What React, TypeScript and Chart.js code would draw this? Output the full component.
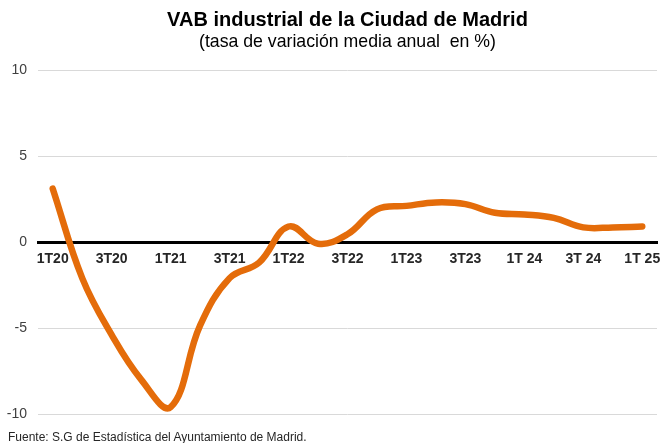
import React, { useEffect, useRef } from "react";
import { Chart, registerables } from "chart.js";

Chart.register(...registerables);

const quarters: string[] = [
  "1T20", "2T20", "3T20", "4T20",
  "1T21", "2T21", "3T21", "4T21",
  "1T22", "2T22", "3T22", "4T22",
  "1T23", "2T23", "3T23", "4T23",
  "1T 24", "2T 24", "3T 24", "4T 24",
  "1T 25",
];

const vabIndustrial: number[] = [
  3.1, -2.1, -5.4, -8.0,
  -9.6, -4.85, -2.1, -1.2,
  0.9, -0.1, 0.45, 1.9,
  2.1, 2.3, 2.2, 1.7,
  1.6, 1.4, 0.85, 0.85,
  0.9,
];

const yTicks: number[] = [-10, -5, 0, 5, 10];

const titleText = "VAB industrial de la Ciudad de Madrid";
const subtitleText = "(tasa de variación media anual  en %)";
const sourceText = "Fuente: S.G de Estadística del Ayuntamiento de Madrid.";

const FONT = "'Liberation Sans', Arial, sans-serif";

export default function App() {
  const canvasRef = useRef<HTMLCanvasElement | null>(null);

  useEffect(() => {
    if (!canvasRef.current) return;
    Chart.defaults.font.family = FONT;
    const chart = new Chart(canvasRef.current, {
      type: "line",
      data: {
        labels: quarters,
        datasets: [
          {
            data: vabIndustrial,
            borderColor: "#E46C0A",
            borderWidth: 6.5,
            pointRadius: 0,
            pointHoverRadius: 0,
            tension: 0.4,
            borderCapStyle: "round",
            borderJoinStyle: "round",
            fill: false,
          },
        ],
      },
      options: {
        responsive: false,
        animation: false,
        layout: { padding: { left: 7, right: 4, top: 0, bottom: 29 } },
        plugins: {
          legend: { display: false },
          tooltip: { enabled: false },
          title: {
            display: true,
            text: titleText,
            fullSize: false,
            color: "#000000",
            font: { size: 20, weight: "bold", family: FONT, lineHeight: 1 },
            padding: { top: 10, bottom: 0 },
          },
          subtitle: {
            display: true,
            text: subtitleText,
            fullSize: false,
            color: "#000000",
            font: { size: 17.7, weight: "normal", family: FONT, lineHeight: 1 },
            padding: { top: 3, bottom: 19.3 },
          },
        },
        scales: {
          x: {
            type: "category",
            position: { y: 0 },
            offset: true,
            grid: { display: false, drawTicks: false },
            border: { display: true, color: "#000000", width: 3 },
            afterFit: (s: any) => {
              s.paddingLeft = 0;
              s.paddingRight = 0;
            },
            ticks: {
              autoSkip: false,
              maxRotation: 0,
              minRotation: 0,
              padding: 9,
              color: "#262626",
              font: { size: 14, weight: "bold", family: FONT },
              callback: (_v: any, i: number) => (i % 2 === 0 ? quarters[i] : ""),
            },
          },
          y: {
            min: -10,
            max: 10,
            afterBuildTicks: (axis: any) => {
              axis.ticks = yTicks.map((v) => ({ value: v }));
            },
            afterFit: (s: any) => {
              s.width = 31;
              s.paddingLeft = 0;
              s.paddingRight = 0;
            },
            grid: {
              drawTicks: false,
              lineWidth: 1,
              color: (ctx: any) =>
                ctx.tick && ctx.tick.value === 0 ? "rgba(0,0,0,0)" : "#d9d9d9",
            },
            border: { display: false },
            ticks: {
              padding: 11,
              color: "#404040",
              font: { size: 14, family: FONT },
            },
          },
        },
      },
    });
    return () => chart.destroy();
  }, []);

  return (
    <div
      style={{
        position: "absolute",
        left: 0,
        top: 0,
        width: 661,
        height: 443,
        background: "#ffffff",
        overflow: "hidden",
      }}
    >
      <canvas ref={canvasRef} width={661} height={443} style={{ display: "block" }} />
      <div
        style={{
          position: "absolute",
          left: 8,
          top: 429,
          fontFamily: FONT,
          fontSize: 12,
          lineHeight: "16px",
          color: "#262626",
          whiteSpace: "nowrap",
        }}
      >
        {sourceText}
      </div>
    </div>
  );
}
